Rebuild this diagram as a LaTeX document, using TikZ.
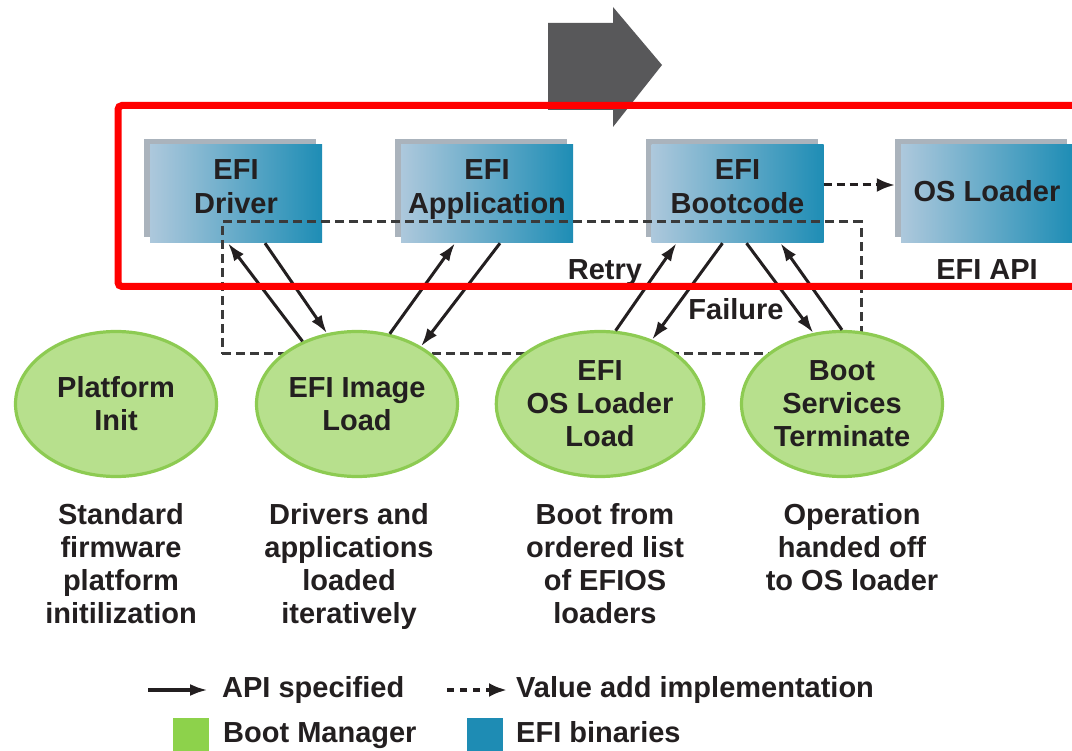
\documentclass[tikz,border=0pt]{standalone}
\usepackage{fontspec}
\setmainfont{Liberation Sans}
\usetikzlibrary{arrows.meta,shapes.geometric,calc}

\definecolor{efiL}{HTML}{ADC8DC}
\definecolor{efiR}{HTML}{1E8DB5}
\definecolor{bevel}{HTML}{AAB3BC}
\definecolor{bmFill}{HTML}{B7E08D}
\definecolor{bmEdge}{HTML}{8DCB52}
\definecolor{bmKey}{HTML}{8DD24B}
\definecolor{binKey}{HTML}{1E8CB4}
\definecolor{ink}{HTML}{231F20}
\definecolor{flow}{HTML}{58585A}
\definecolor{loopgray}{HTML}{3A3A3A}
\definecolor{hilite}{HTML}{FF0000}

\tikzset{
  every node/.append style={inner sep=0pt},
  txt/.style={font=\fontsize{29}{33}\selectfont\bfseries, text=ink, align=center},
  boxtext/.style={font=\fontsize{29}{34}\selectfont\bfseries, text=ink, align=center},
  efibox/.style={rectangle, minimum width=172pt, minimum height=98pt,
                 left color=efiL, right color=efiR, draw=none},
  bevelbox/.style={rectangle, minimum width=172pt, minimum height=98pt,
                   fill=bevel, draw=none},
  bootmgr/.style={ellipse, minimum width=201pt, minimum height=145pt,
                  fill=bmFill, draw=bmEdge, line width=3.2pt, txt},
  conn/.style={draw=ink, line width=3pt, -{Latex[length=18pt,width=12pt]}},
  valueadd/.style={draw=ink, line width=3pt, dash pattern=on 8pt off 5pt,
                   -{Latex[length=18pt,width=14pt]}},
  loopbox/.style={rectangle, draw=loopgray, line width=3pt,
                  dash pattern=on 9pt off 5pt},
  keysq/.style={rectangle, minimum width=36pt, minimum height=37pt, draw=none},
}

\begin{document}
\begin{tikzpicture}[x=1pt,y=-1pt]
\useasboundingbox (0,0) rectangle (1072,751);
\clip (0,0) rectangle (1072,751);

% phase direction arrow
\fill[flow] (548,23) -- (613,23) -- (613,7) -- (662,65) -- (613,127)
  -- (613,110) -- (548,110) -- cycle;

% EFI binaries (bevel behind, shaded face in front)
\node[bevelbox] (drvbk)  at (230,188) {};
\node[efibox]   (drv)    at (236,194) {};
\node[bevelbox] (appbk)  at (481,188) {};
\node[efibox]   (app)    at (487,194) {};
\node[bevelbox] (bootbk) at (731.5,188) {};
\node[efibox]   (boot)   at (737.5,194) {};
\node[bevelbox] (osbk)   at (981,188) {};
\node[efibox]   (osbox)  at (987,194) {};

\node[boxtext] (drvtx)  at (236,186.5) {EFI\\Driver};
\node[boxtext] (apptx)  at (487,189.5) {EFI\\Application};
\node[boxtext] (boottx) at (737.5,186.5) {EFI\\Bootcode};
\node[boxtext] (ostx)   at (987,191) {OS Loader};

% iteration loop
\node[loopbox, minimum width=639pt, minimum height=132pt] (retryloop) at (541.5,288) {};

% boot manager phases
\node[bootmgr] (plat)   at (116,404) {Platform\\Init};
\node[bootmgr] (img)    at (357,404) {EFI Image\\Load};
\node[bootmgr] (osload) at (600,404) {EFI\\OS Loader\\Load};
\node[bootmgr] (bst)    at (842,404) {Boot\\Services\\Terminate};

% API calls between phases and binaries
\draw[conn] (img.131.5) -- ([xshift=-8pt]drv.south);
\draw[conn] ([xshift=29pt]drv.south) -- (img.113);
\draw[conn] (img.65) -- ([xshift=-32pt]app.south);
\draw[conn] ([xshift=13pt]app.south) -- (img.42);
\draw[conn] (osload.78) -- ([xshift=-61pt]boot.south);
\draw[conn] ([xshift=-15pt]boot.south) -- (osload.51);
\draw[conn] ([xshift=9pt]boot.south) -- (bst.112);
\draw[conn] (bst.90) -- ([xshift=43pt]boot.south);
\draw[valueadd] ([yshift=9pt]boot.east) -- ([xshift=-6pt,yshift=9pt]osbox.west);

\node[txt, anchor=base] (retry)   at (605,280) {Retry};
\node[txt, anchor=base] (failure) at (736,320) {Failure};
\node[txt, anchor=base] (efiapi)  at (987,280) {EFI API};

% phase descriptions
\node[txt, anchor=north] (d1) at (121,503) {Standard\\firmware\\platform\\initilization};
\node[txt, anchor=north] (d2) at (349,503) {Drivers and\\applications\\loaded\\iteratively};
\node[txt, anchor=north] (d3) at (605,503) {Boot from\\ordered list\\of EFIOS\\loaders};
\node[txt, anchor=north] (d4) at (852,503) {Operation\\handed off\\to OS loader};

% legend
\coordinate (k1a) at (148,690);
\coordinate (k1b) at (208,690);
\draw[conn, line width=3.6pt] (k1a) -- (k1b);
\node[txt, anchor=base west] (k1t) at (222,697) {API specified};
\coordinate (k2a) at (447,690);
\coordinate (k2b) at (507,690);
\draw[valueadd, line width=3.6pt, dash pattern=on 7pt off 6pt] (k2a) -- (k2b);
\node[txt, anchor=base west] (k2t) at (516,697) {Value add implementation};
\node[keysq, fill=bmKey]  (k3) at (191,736.5) {};
\node[txt, anchor=base west] (k3t) at (223,742) {Boot Manager};
\node[keysq, fill=binKey] (k4) at (485,736.5) {};
\node[txt, anchor=base west] (k4t) at (516,742) {EFI binaries};

% highlight frame
\draw[hilite, line width=7pt, rounded corners=4pt] (118,105.5) rectangle (1095,286.5);
\end{tikzpicture}
\end{document}
